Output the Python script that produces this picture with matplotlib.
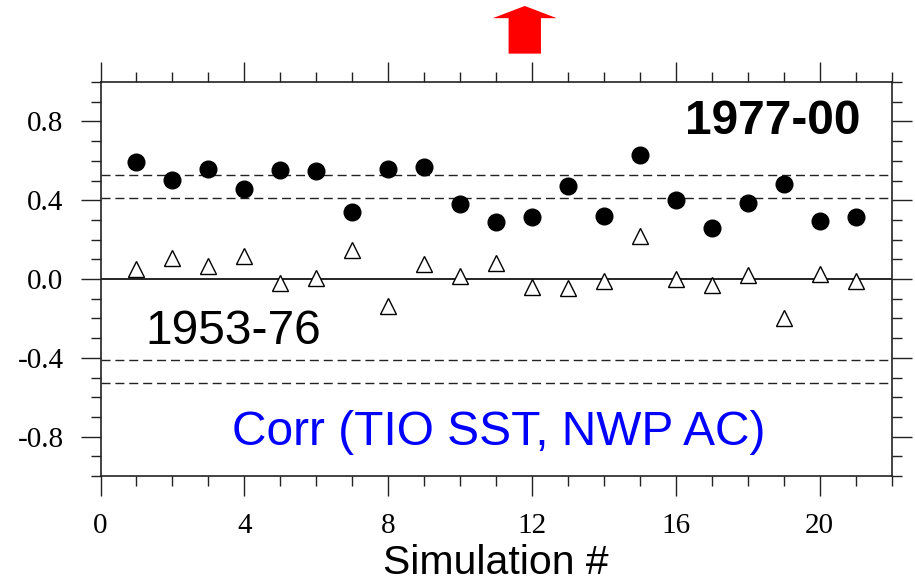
import matplotlib
matplotlib.use("Agg")
import matplotlib.pyplot as plt
from matplotlib.patches import Polygon
from matplotlib.ticker import MultipleLocator
import matplotlib.transforms as mtransforms

# Correlation per simulation run
simulation = list(range(1, 22))
corr_1977_00 = [0.596, 0.503, 0.559, 0.459, 0.552, 0.548, 0.342, 0.559, 0.567, 0.379, 0.288,
                0.313, 0.470, 0.318, 0.631, 0.401, 0.261, 0.386, 0.484, 0.295, 0.315]
corr_1953_76 = [0.053, 0.108, 0.066, 0.117, -0.022, 0.005, 0.149, -0.139, 0.078, 0.015, 0.081,
                -0.041, -0.048, -0.009, 0.220, 0.002, -0.029, 0.022, -0.198, 0.025, -0.009]
# Significance thresholds
sig_levels = [0.41, 0.53]

x_ticks = [0, 4, 8, 12, 16, 20]
y_ticks = [-0.8, -0.4, 0.0, 0.4, 0.8]
y_ticklabels = ["-0.8", "-0.4", "0.0", "0.4", "0.8"]

serif = ["Liberation Serif", "DejaVu Serif"]
sans = ["Liberation Sans", "DejaVu Sans"]

fig = plt.figure(figsize=(9.15, 5.83), dpi=100)
ax = fig.add_axes([100.5 / 915, 1 - 476 / 583, 791 / 915, 394 / 583])

for lev in sig_levels:
    for s in (1, -1):
        ax.axhline(s * lev, color="#222222", lw=1.0, dashes=(6.5, 3.5), zorder=1)
ax.axhline(0.0, color="black", lw=1.2, zorder=1)

ax.plot(simulation, corr_1977_00, "o", color="black", ms=12, zorder=3)
ax.plot(simulation, corr_1953_76, "^", mfc="white", mec="black", mew=1.0, ms=11.5, zorder=3)

ax.set_xlim(0, 22)
ax.set_ylim(-1.0, 1.0)
ax.set_xticks(x_ticks)
ax.set_xticklabels([str(v) for v in x_ticks], fontfamily=serif, fontsize=21)
ax.set_yticks(y_ticks)
ax.set_yticklabels(y_ticklabels, fontfamily=serif, fontsize=21)
ax.xaxis.set_minor_locator(MultipleLocator(1))
ax.yaxis.set_minor_locator(MultipleLocator(0.1))
ax.tick_params(which="both", direction="out", top=True, right=True, width=1.0, color="#222222")
ax.tick_params(which="major", length=14.6)
ax.tick_params(which="minor", length=7.4)
ax.tick_params(axis="y", which="major", pad=12)
ax.tick_params(axis="x", which="major", pad=12)
for sp in ax.spines.values():
    sp.set_linewidth(1.2)
    sp.set_color("#222222")

ax.set_xlabel("Simulation #", fontfamily=sans, fontsize=29.5, labelpad=4)

ax.text(21.14, 0.80, "1977-00", fontfamily=sans, fontsize=34.5, fontweight="bold",
        ha="right", va="center")
ax.text(1.25, -0.265, "1953-76", fontfamily=sans, fontsize=34.5, ha="left", va="center")
ax.text(11.08, -0.78, "Corr (TIO SST, NWP AC)", fontfamily=sans, fontsize=34.5,
        color="blue", ha="center", va="center")

# Red upward arrow above the top axis
trans = mtransforms.blended_transform_factory(ax.transData, ax.transAxes)
xc, hw, sw = 11.8, 0.89, 0.45
y_tip, y_head, y_base = 1.193, 1.162, 1.072
arrow = Polygon([(xc, y_tip), (xc + hw, y_head), (xc + sw, y_head), (xc + sw, y_base),
                 (xc - sw, y_base), (xc - sw, y_head), (xc - hw, y_head)],
                closed=True, facecolor="red", edgecolor="none", transform=trans, clip_on=False)
ax.add_patch(arrow)

fig.savefig("out.png", dpi=100)
